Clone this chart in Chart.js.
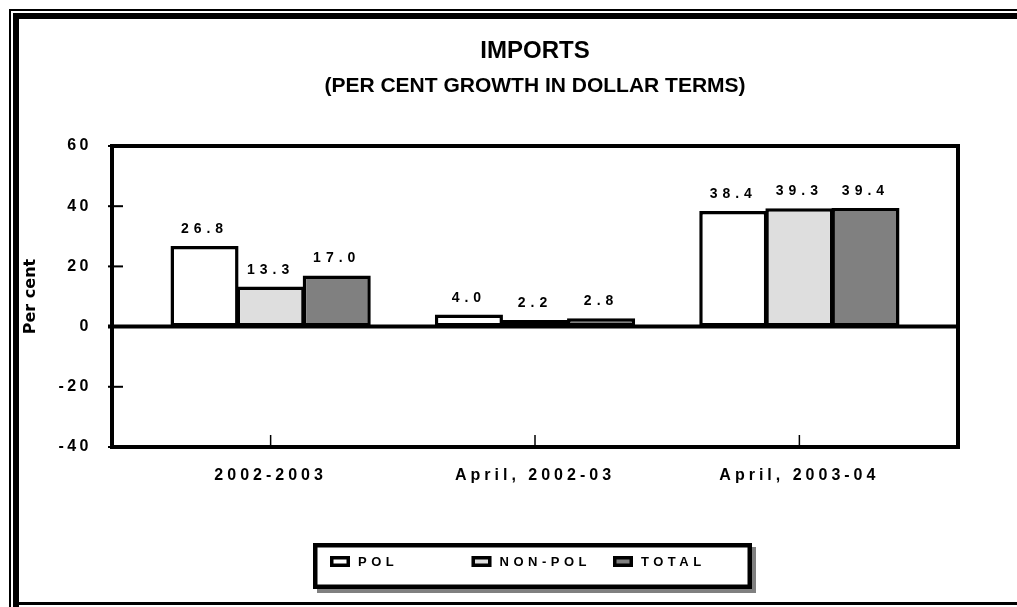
<!DOCTYPE html>
<html>
<head>
<meta charset="utf-8">
<title>Imports</title>
<script src="https://cdn.jsdelivr.net/npm/chart.js@4.4.1/dist/chart.umd.min.js"></script>
<style>
    html, body { margin: 0; padding: 0; background: #fff; }
    #wrap { width: 1017px; height: 607px; }
</style>
</head>
<body>
<div id="wrap"><canvas id="importsChart" width="1017" height="607"></canvas></div>
<script>
    const categories = ["2002-2003", "April, 2002-03", "April, 2003-04"];
    const polValues = [26.8, 4.0, 38.4];
    const nonPolValues = [13.3, 2.2, 39.3];
    const totalValues = [17.0, 2.8, 39.4];
    const yTicks = [60, 40, 20, 0, -20, -40];

    const LABEL_SPACING = { x: "4px", y: "3.5px" };

    function toPoints(values) {
        return values.map((v, i) => ({ x: i, y: v }));
    }

    function line(ctx, x1, y1, x2, y2) {
        ctx.beginPath();
        ctx.moveTo(x1, y1);
        ctx.lineTo(x2, y2);
        ctx.stroke();
    }

    const decorations = {
        id: "decorations",
        beforeDraw(chart) {
            const ctx = chart.ctx;
            const w = chart.width, h = chart.height;
            // outer double frame
            ctx.save();
            ctx.fillStyle = "#000";
            ctx.fillRect(9, 9, w - 9, 2);
            ctx.fillRect(9, 9, 2, h - 9);
            ctx.fillRect(13, 13, w - 13, 6);
            ctx.fillRect(13, 13, 6, h - 13);
            ctx.fillRect(13, 602, w - 13, 3);
            ctx.restore();

            // tick labels are letter spaced in the original
            Object.values(chart.scales).forEach((scale) => {
                if (scale._spacedPatch) return;
                const orig = scale.drawLabels;
                scale.drawLabels = function (area) {
                    this.ctx.save();
                    this.ctx.letterSpacing = LABEL_SPACING[this.axis];
                    orig.call(this, area);
                    this.ctx.restore();
                };
                scale._spacedPatch = true;
            });
        },
        afterDatasetsDraw(chart) {
            const { ctx, chartArea: a, scales: { x, y } } = chart;
            ctx.save();
            ctx.strokeStyle = "#000";

            // zero line
            const y0 = y.getPixelForValue(0);
            ctx.lineWidth = 4;
            line(ctx, a.left - 4, y0, a.right, y0);

            // inward tick marks
            ctx.lineWidth = 2;
            y.ticks.forEach((t) => {
                const py = y.getPixelForValue(t.value);
                line(ctx, a.left - 4, py, a.left + 11, py);
            });
            ctx.lineWidth = 1.5;
            x.ticks.forEach((t) => {
                const px = x.getPixelForValue(t.value);
                line(ctx, px, a.bottom - 12, px, a.bottom);
            });

            // plot frame
            ctx.lineWidth = 4;
            ctx.strokeRect(a.left, a.top, a.width, a.height);

            // value labels
            ctx.font = 'bold 14px "Liberation Sans"';
            ctx.letterSpacing = "5px";
            ctx.fillStyle = "#000";
            ctx.textAlign = "center";
            ctx.textBaseline = "alphabetic";
            chart.data.datasets.forEach((ds, i) => {
                chart.getDatasetMeta(i).data.forEach((bar, j) => {
                    ctx.fillText(ds.data[j].y.toFixed(1), bar.x, bar.y - 13);
                });
            });
            ctx.restore();
        },
        afterDraw(chart) {
            const ctx = chart.ctx;
            const box = { left: 313, top: 543, width: 439, height: 46 };
            ctx.save();
            // legend box with drop shadow
            ctx.fillStyle = "#808080";
            ctx.fillRect(box.left + 4, box.top + 4, box.width, box.height);
            ctx.fillStyle = "#fff";
            ctx.fillRect(box.left, box.top, box.width, box.height);
            ctx.strokeStyle = "#000";
            ctx.lineWidth = 4.5;
            ctx.strokeRect(box.left + 2.25, box.top + 2.25, box.width - 4.5, box.height - 4.5);

            ctx.font = 'bold 13px "Liberation Sans"';
            ctx.letterSpacing = "4.5px";
            ctx.textBaseline = "middle";
            ctx.textAlign = "left";
            chart.data.datasets.forEach((ds, i) => {
                const sx = 330 + i * 141.5, sy = 556;
                ctx.fillStyle = ds.backgroundColor;
                ctx.fillRect(sx, sy, 20, 11);
                ctx.lineWidth = 3.5;
                ctx.strokeRect(sx + 1.75, sy + 1.75, 16.5, 7.5);
                ctx.fillStyle = "#000";
                ctx.fillText(ds.label, sx + 28, sy + 6);
            });
            ctx.restore();
        }
    };

    function makeDataset(label, values, color) {
        return {
            label: label,
            data: toPoints(values),
            backgroundColor: color,
            borderColor: "#000",
            borderWidth: 3.5,
            borderSkipped: false,
            categoryPercentage: 0.75,
            barPercentage: 1.03
        };
    }

    const ctx = document.getElementById("importsChart").getContext("2d");
    const chart = new Chart(ctx, {
        type: "bar",
        data: {
            datasets: [
                makeDataset("POL", polValues, "#ffffff"),
                makeDataset("NON-POL", nonPolValues, "#dedede"),
                makeDataset("TOTAL", totalValues, "#808080")
            ]
        },
        options: {
            responsive: false,
            animation: false,
            layout: {
                padding: { left: 18, right: 59, top: 0, bottom: 120 }
            },
            plugins: {
                legend: { display: false },
                tooltip: { enabled: false },
                title: {
                    display: true,
                    text: "IMPORTS",
                    fullSize: false,
                    color: "#000",
                    font: { family: "Liberation Sans", size: 24, weight: "bold" },
                    padding: { top: 37, bottom: 0 }
                },
                subtitle: {
                    display: true,
                    text: "(PER CENT GROWTH IN DOLLAR TERMS)",
                    fullSize: false,
                    color: "#000",
                    font: { family: "Liberation Sans", size: 21, weight: "bold" },
                    padding: { top: 7.6, bottom: 47.4 }
                }
            },
            scales: {
                x: {
                    type: "linear",
                    offset: false,
                    min: -0.6,
                    max: categories.length - 0.4,
                    grid: { display: false, drawTicks: false, offset: false },
                    border: { display: false },
                    afterBuildTicks: (scale) => {
                        scale.ticks = categories.map((c, i) => ({ value: i }));
                    },
                    afterFit: (scale) => {
                        scale.height = 40;
                    },
                    ticks: {
                        autoSkip: false,
                        maxRotation: 0,
                        padding: 19,
                        color: "#000",
                        font: { family: "Liberation Sans", size: 16, weight: "bold" },
                        callback: (value) => categories[value]
                    }
                },
                y: {
                    min: Math.min(...yTicks),
                    max: Math.max(...yTicks),
                    grid: { display: false, drawTicks: false },
                    border: { display: false },
                    afterFit: (scale) => {
                        scale.width = 94;
                    },
                    ticks: {
                        stepSize: 20,
                        padding: 20,
                        color: "#000",
                        font: { family: "Liberation Sans", size: 16, weight: "bold" }
                    },
                    title: {
                        display: true,
                        text: "Per cent",
                        color: "#000",
                        font: { family: "DejaVu Sans", size: 16, weight: "bold" },
                        padding: { top: 3.4, bottom: 0 }
                    }
                }
            }
        },
        plugins: [decorations]
    });
</script>
</body>
</html>
